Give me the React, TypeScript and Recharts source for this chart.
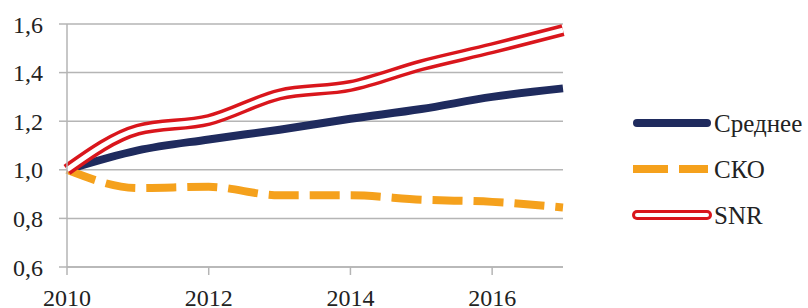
import React from "react";
import { LineChart, Line, XAxis, YAxis, CartesianGrid } from "recharts";

const years = [2010, 2011, 2012, 2013, 2014, 2015, 2016, 2017];
const meanValues = [1.0, 1.08, 1.125, 1.165, 1.21, 1.25, 1.3, 1.335];
const skoValues = [1.0, 0.925, 0.93, 0.895, 0.895, 0.877, 0.868, 0.845];
const snrValues = [1.0, 1.165, 1.205, 1.31, 1.345, 1.43, 1.5, 1.575];
const xTicks = [2010, 2012, 2014, 2016];
const yTicks = [0.6, 0.8, 1.0, 1.2, 1.4, 1.6];
const seriesNames = ["Среднее", "СКО", "SNR"];

const data = years.map((y, i) => ({
  year: y,
  mean: meanValues[i],
  sko: skoValues[i],
  snr: snrValues[i],
}));

const NAVY = "#1f2b5e";
const ORANGE = "#f5a11c";
const RED = "#d9161c";
const FONT = "'Liberation Serif', 'Times New Roman', serif";

const fmt = (v: number) => v.toFixed(1).replace(".", ",");

const LegendBox = () => (
  <div
    style={{
      position: "absolute",
      left: 630,
      top: 100,
      fontFamily: FONT,
      fontSize: 25,
      color: "#222",
    }}
  >
    {seriesNames.map((name, i) => (
      <div key={name} style={{ display: "flex", alignItems: "center", height: 46 }}>
        <svg width={82} height={16} style={{ display: "block" }}>
          {i === 0 && (
            <line x1={7} y1={8} x2={77} y2={8} stroke={NAVY} strokeWidth={8} strokeLinecap="round" />
          )}
          {i === 1 && (
            <line x1={3} y1={8} x2={78} y2={8} stroke={ORANGE} strokeWidth={8} strokeDasharray="35 11" />
          )}
          {i === 2 && (
            <g>
              <line x1={7} y1={8} x2={77} y2={8} stroke={RED} strokeWidth={10} strokeLinecap="round" />
              <line x1={7} y1={8} x2={77} y2={8} stroke="#fff" strokeWidth={4} strokeLinecap="round" />
            </g>
          )}
        </svg>
        <span style={{ marginLeft: 2, lineHeight: 1 }}>{name}</span>
      </div>
    ))}
  </div>
);

export default function App() {
  return (
    <div style={{ position: "absolute", left: 0, top: 0, width: 808, height: 308, background: "#fff" }}>
      <LineChart
        width={808}
        height={308}
        data={data}
        margin={{ top: 24, right: 245, bottom: 0, left: 0 }}
      >
        <CartesianGrid vertical={false} stroke="#b5b5b5" strokeWidth={1.5} />
        <XAxis
          dataKey="year"
          type="number"
          domain={[2010, 2017]}
          ticks={xTicks}
          interval={0}
          height={41}
          stroke="#b5b5b5"
          strokeWidth={1.5}
          tickSize={8}
          tickMargin={14}
          tick={{ fill: "#222", fontSize: 24, fontFamily: FONT }}
        />
        <YAxis
          type="number"
          domain={[0.6, 1.6]}
          ticks={yTicks}
          interval={0}
          width={67}
          stroke="#b5b5b5"
          strokeWidth={1.5}
          tickSize={8}
          tickMargin={16}
          tickFormatter={fmt}
          tick={{ fill: "#222", fontSize: 24, fontFamily: FONT }}
        />
        <Line
          dataKey="mean"
          type="monotone"
          stroke={NAVY}
          strokeWidth={8}
          dot={false}
          isAnimationActive={false}
        />
        <Line
          dataKey="sko"
          type="monotone"
          stroke={ORANGE}
          strokeWidth={8}
          strokeDasharray="30 11"
          dot={false}
          isAnimationActive={false}
        />
        <Line
          dataKey="snr"
          type="monotone"
          stroke={RED}
          strokeWidth={12}
          dot={false}
          isAnimationActive={false}
        />
        <Line
          dataKey="snr"
          type="monotone"
          stroke="#fff"
          strokeWidth={5}
          dot={false}
          isAnimationActive={false}
        />
      </LineChart>
      <LegendBox />
    </div>
  );
}
